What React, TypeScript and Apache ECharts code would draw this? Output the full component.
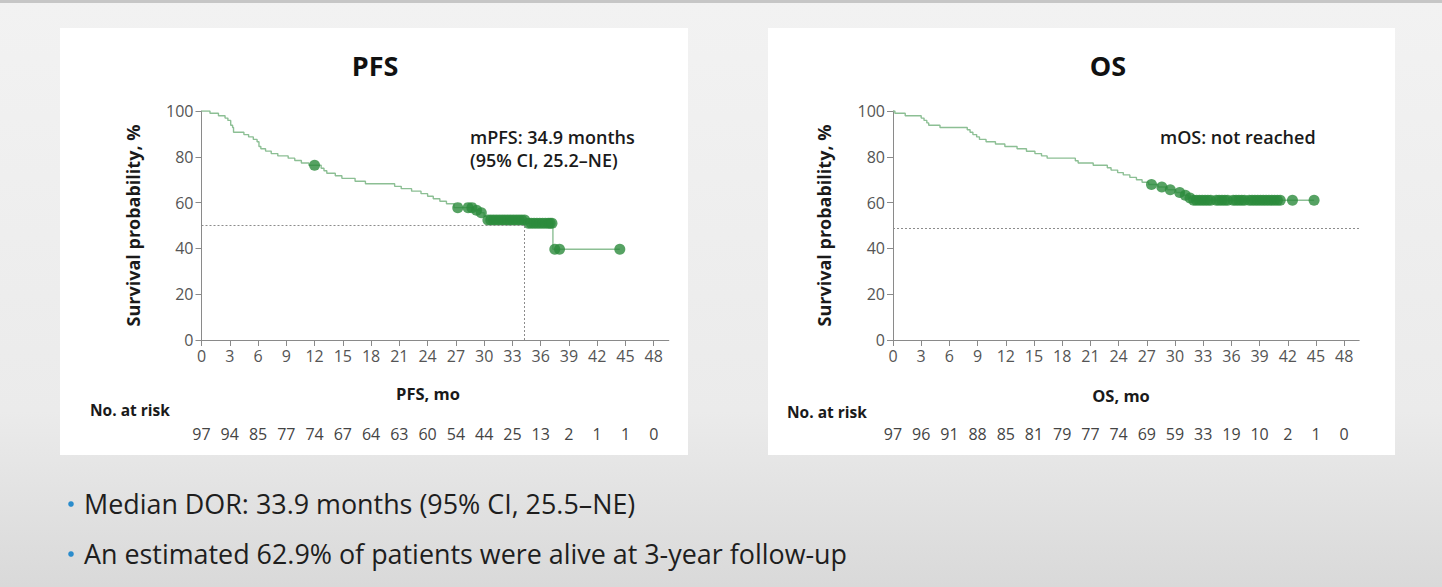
import React, { useEffect, useRef } from "react";
import * as echarts from "echarts";

// ---------- data ----------
const X_TICKS = [0, 3, 6, 9, 12, 15, 18, 21, 24, 27, 30, 33, 36, 39, 42, 45, 48];

// PFS Kaplan-Meier steps (month, survival %)
const PFS_TIME = [0, 0.9, 1.8, 2.5, 2.8, 3.1, 3.3, 3.4, 4.5, 5.0, 5.5, 5.9, 6.1, 6.3, 6.8, 7.4, 8.1, 9.2, 9.9, 10.6, 11.4, 12.7, 13.0, 13.3, 14.2, 14.9, 16.3, 17.4, 20.5, 21.2, 22.3, 23.3, 24.0, 24.6, 25.3, 26.0, 26.8, 28.9, 29.6, 30.0, 30.3, 34.4, 37.3, 44.4];
const PFS_SURV = [100, 99.0, 97.9, 96.9, 95.9, 93.8, 92.8, 90.7, 89.7, 88.7, 87.6, 86.6, 84.5, 83.5, 82.5, 81.4, 80.4, 79.4, 78.4, 77.3, 76.3, 75.0, 73.9, 72.8, 71.7, 70.6, 69.3, 68.2, 67.1, 66.1, 65.0, 63.9, 62.8, 61.7, 60.6, 59.5, 57.8, 56.7, 55.6, 54.0, 52.4, 51.0, 39.6, 39.6];
const PFS_CENSOR = [12.0, 27.2, 28.3, 28.7, 29.2, 29.7, 30.4, 30.7, 31.0, 31.3, 31.6, 31.9, 32.2, 32.5, 32.8, 33.1, 33.4, 33.7, 34.0, 34.3, 34.7, 35.0, 35.3, 35.6, 35.9, 36.2, 36.5, 36.8, 37.0, 37.2, 37.5, 38.0, 44.4];
const PFS_AT_RISK = [97, 94, 85, 77, 74, 67, 64, 63, 60, 54, 44, 25, 13, 2, 1, 1, 0];
const PFS_MEDIAN_X = 34.3;
const PFS_MEDIAN_Y = 50;

// OS Kaplan-Meier steps (month, survival %)
const OS_TIME = [0, 0.2, 1.3, 3.0, 3.3, 3.6, 3.8, 5.0, 7.9, 8.2, 8.5, 8.9, 9.2, 9.9, 10.9, 11.9, 13.2, 14.2, 15.1, 15.8, 16.4, 19.4, 19.7, 21.3, 22.8, 23.2, 23.9, 24.5, 25.2, 25.9, 26.5, 27.2, 28.2, 29.2, 30.1, 30.9, 31.4, 31.8, 44.8];
const OS_SURV = [100, 99.0, 97.9, 96.9, 95.9, 94.8, 93.8, 92.8, 91.8, 90.7, 89.7, 88.7, 87.6, 86.6, 85.6, 84.5, 83.5, 82.4, 81.4, 80.4, 79.4, 78.3, 77.3, 76.3, 75.2, 74.2, 73.1, 72.1, 71.0, 70.0, 68.9, 67.9, 66.8, 65.6, 64.4, 63.2, 62.0, 61.0, 61.0];
const OS_CENSOR = [27.5, 28.6, 29.5, 30.5, 31.1, 31.6, 32.0, 32.3, 32.6, 32.9, 33.2, 33.5, 33.8, 34.4, 34.7, 35.0, 35.3, 35.6, 36.2, 36.5, 36.8, 37.1, 37.4, 37.9, 38.2, 38.5, 38.8, 39.1, 39.4, 39.7, 40.0, 40.3, 40.6, 40.9, 41.2, 42.5, 44.8];
const OS_AT_RISK = [97, 96, 91, 88, 85, 81, 79, 77, 74, 69, 59, 33, 19, 10, 2, 1, 0];
const OS_REF_Y = 48.7;

const BULLETS = [
  "Median DOR: 33.9 months (95% CI, 25.5–NE)",
  "An estimated 62.9% of patients were alive at 3-year follow-up",
];

// ---------- helpers ----------
const pairs = (t: number[], s: number[]) => t.map((v, i) => [v, s[i]]);
const survAt = (t: number[], s: number[], x: number) => {
  let v = s[0];
  for (let i = 0; i < t.length; i++) if (t[i] <= x) v = s[i];
  return v;
};

const FONT = "Open Sans";
const CURVE = "#8cbf94";
const DOT = "#2c8b3c";
const AXIS = "#8a8a8a";
const X_MAX = 49.6;

function makeAxes(gridIndex: number, atRisk: number[]) {
  const x = {
    type: "value",
    gridIndex,
    min: 0,
    max: X_MAX,
    axisLine: { show: true, lineStyle: { color: AXIS, width: 1 } },
    axisTick: { show: true, length: 6, lineStyle: { color: AXIS }, customValues: X_TICKS },
    axisLabel: { color: "#555", fontSize: 16, fontFamily: FONT, margin: 8, customValues: X_TICKS },
    splitLine: { show: false },
  };
  const risk = {
    type: "value",
    gridIndex,
    min: 0,
    max: X_MAX,
    position: "bottom",
    offset: 83,
    axisLine: { show: false },
    axisTick: { show: false },
    splitLine: { show: false },
    axisLabel: {
      color: "#444",
      fontSize: 16,
      fontFamily: FONT,
      margin: 3,
      customValues: X_TICKS,
      formatter: (v: number) => {
        const i = X_TICKS.indexOf(Math.round(v));
        return i >= 0 ? String(atRisk[i]) : "";
      },
    },
  };
  const y = {
    type: "value",
    gridIndex,
    min: 0,
    max: 100,
    interval: 20,
    name: "Survival probability, %",
    nameLocation: "middle",
    nameRotate: 90,
    nameGap: 60,
    nameTextStyle: { color: "#1a1a1a", fontSize: 18, fontWeight: "bold", fontFamily: FONT },
    axisLine: { show: true, lineStyle: { color: AXIS, width: 1 } },
    axisTick: { show: true, length: 6, lineStyle: { color: AXIS } },
    axisLabel: { color: "#555", fontSize: 16, fontFamily: FONT, margin: 8 },
    splitLine: { show: false },
  };
  return { x, risk, y };
}

export default function App() {
  const ref = useRef<HTMLDivElement>(null);
  useEffect(() => {
    if (!ref.current) return;
    const chart = echarts.init(ref.current, null, { renderer: "svg" });
    const a1 = makeAxes(0, PFS_AT_RISK);
    const a2 = makeAxes(1, OS_AT_RISK);

    const dashed = { color: "#8c8c8c", width: 1, type: [2, 2] };

    const option: any = {
      animation: false,
      backgroundColor: {
        type: "linear", x: 0, y: 0, x2: 0, y2: 1,
        colorStops: [
          { offset: 0, color: "#f2f2f2" },
          { offset: 0.7, color: "#ebebeb" },
          { offset: 1, color: "#d9d9d9" },
        ],
      },
      grid: [
        { left: 201.5, top: 111, width: 467.3, height: 229 },
        { left: 893, top: 111, width: 466.2, height: 229 },
      ],
      xAxis: [a1.x, a1.risk, a2.x, a2.risk].map((ax, i) => ({ ...ax, gridIndex: i < 2 ? 0 : 1 })),
      yAxis: [a1.y, a2.y],
      series: [
        {
          type: "line",
          xAxisIndex: 0,
          yAxisIndex: 0,
          step: "end",
          showSymbol: false,
          data: pairs(PFS_TIME, PFS_SURV),
          lineStyle: { color: CURVE, width: 1.4 },
          markLine: {
            silent: true,
            symbol: "none",
            label: { show: false },
            lineStyle: dashed,
            data: [
              [{ coord: [0, PFS_MEDIAN_Y] }, { coord: [PFS_MEDIAN_X, PFS_MEDIAN_Y] }],
              [{ coord: [PFS_MEDIAN_X, 0] }, { coord: [PFS_MEDIAN_X, PFS_MEDIAN_Y] }],
            ],
          },
          z: 3,
        },
        {
          type: "scatter",
          xAxisIndex: 0,
          yAxisIndex: 0,
          symbolSize: 11,
          itemStyle: { color: DOT },
          data: PFS_CENSOR.map((t) => [t, survAt(PFS_TIME, PFS_SURV, t)]),
          z: 4,
        },
        {
          type: "line",
          xAxisIndex: 2,
          yAxisIndex: 1,
          step: "end",
          showSymbol: false,
          data: pairs(OS_TIME, OS_SURV),
          lineStyle: { color: CURVE, width: 1.4 },
          markLine: {
            silent: true,
            symbol: "none",
            label: { show: false },
            lineStyle: dashed,
            data: [[{ coord: [0, OS_REF_Y] }, { coord: [X_MAX, OS_REF_Y] }]],
          },
          z: 3,
        },
        {
          type: "scatter",
          xAxisIndex: 2,
          yAxisIndex: 1,
          symbolSize: 11,
          itemStyle: { color: DOT },
          data: OS_CENSOR.map((t) => [t, survAt(OS_TIME, OS_SURV, t)]),
          z: 4,
        },
      ],
      graphic: [
        { type: "rect", z: -10, shape: { x: 0, y: 0, width: 1442, height: 3 }, style: { fill: "#c6c6c6" } },
        { type: "rect", z: -10, shape: { x: 60, y: 28, width: 628, height: 427 }, style: { fill: "#ffffff" } },
        { type: "rect", z: -10, shape: { x: 768, y: 28, width: 627, height: 427 }, style: { fill: "#ffffff" } },
        { type: "text", x: 375, y: 65, style: { text: "PFS", fill: "#111", font: `bold 27px "${FONT}"`, textAlign: "center", textVerticalAlign: "middle" } },
        { type: "text", x: 1108, y: 65, style: { text: "OS", fill: "#111", font: `bold 27px "${FONT}"`, textAlign: "center", textVerticalAlign: "middle" } },
        { type: "text", x: 470, y: 137, style: { text: "mPFS: 34.9 months", fill: "#1a1a1a", font: `600 18px "${FONT}"`, textVerticalAlign: "middle" } },
        { type: "text", x: 470, y: 160, style: { text: "(95% CI, 25.2–NE)", fill: "#1a1a1a", font: `600 18px "${FONT}"`, textVerticalAlign: "middle" } },
        { type: "text", x: 1160, y: 137, style: { text: "mOS: not reached", fill: "#1a1a1a", font: `600 18px "${FONT}"`, textVerticalAlign: "middle" } },
        { type: "text", x: 428, y: 393, style: { text: "PFS, mo", fill: "#1a1a1a", font: `bold 16.5px "${FONT}"`, textAlign: "center", textVerticalAlign: "middle" } },
        { type: "text", x: 1121, y: 395, style: { text: "OS, mo", fill: "#1a1a1a", font: `bold 16.5px "${FONT}"`, textAlign: "center", textVerticalAlign: "middle" } },
        { type: "text", x: 90, y: 410, style: { text: "No. at risk", fill: "#1a1a1a", font: `bold 15.5px "${FONT}"`, textVerticalAlign: "middle" } },
        { type: "text", x: 787, y: 412, style: { text: "No. at risk", fill: "#1a1a1a", font: `bold 15.5px "${FONT}"`, textVerticalAlign: "middle" } },
        ...BULLETS.flatMap((b, i) => [
          { type: "circle", shape: { cx: 71, cy: 504 + i * 50, r: 2.8 }, style: { fill: "#2a8ccc" } },
          { type: "text", x: 84, y: 503 + i * 50, scaleX: 0.96, style: { text: b, fill: "#1e1e1e", font: `28px "${FONT}"`, textVerticalAlign: "middle" } },
        ]),
      ],
    };
    chart.setOption(option);
    return () => chart.dispose();
  }, []);
  return (
    <div
      ref={ref}
      style={{ position: "fixed", left: 0, top: 0, width: 1442, height: 587 }}
    />
  );
}
